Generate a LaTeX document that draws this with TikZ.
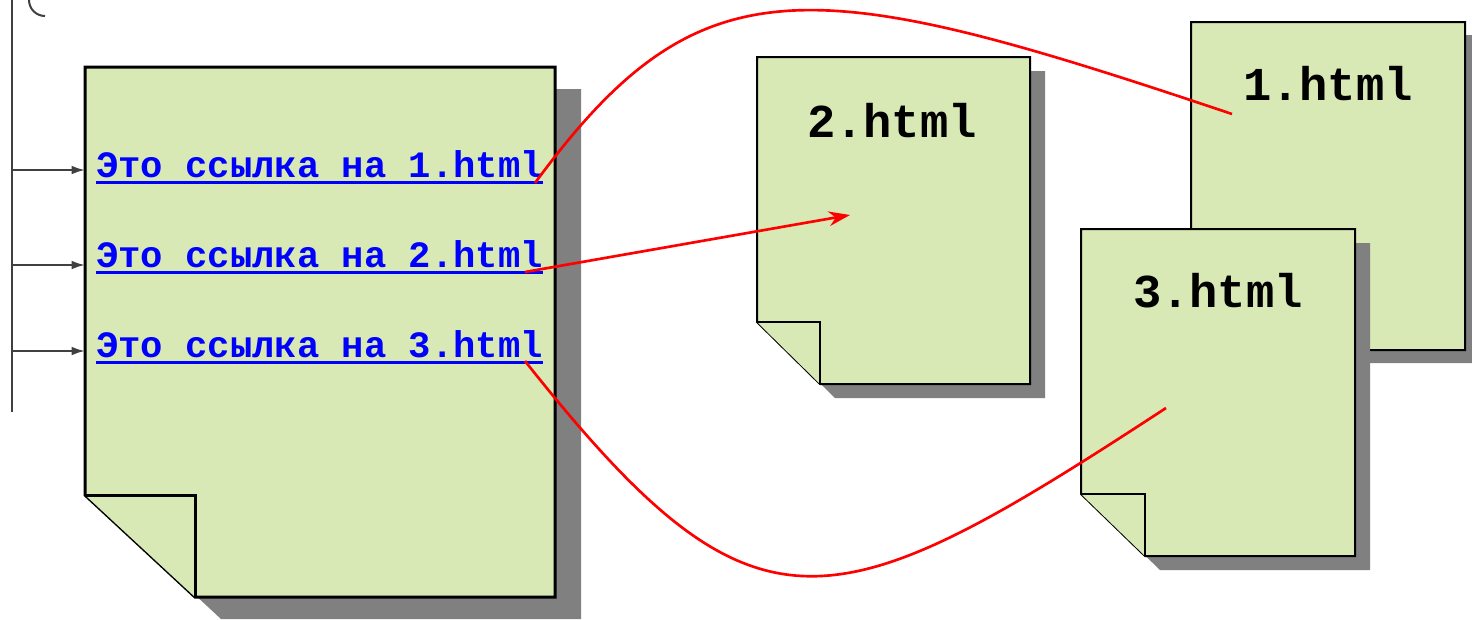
\documentclass[tikz,border=0pt]{standalone}
\usepackage{fontspec}
\usetikzlibrary{arrows.meta,calc}
\newfontfamily\codefont{Liberation Mono}

% page with a folded lower left corner and a shadow
% #1 extra keys, #2..#5 frame, #6 fold x, #7 fold y, #8 #9 shadow offset
\newcommand{\docpage}[9][]{%
  \fill[pageshadow] (#2+#8,#3+#9) -- (#4+#8,#3+#9) -- (#4+#8,#5+#9) -- (#6+#8,#5+#9) -- (#2+#8,#7+#9) -- cycle;
  \filldraw[pagebody,#1] (#2,#3) -- (#4,#3) -- (#4,#5) -- (#6,#5) -- (#2,#7) -- cycle;
  \draw[pagebody,#1] (#2,#7) -- (#6,#7) -- (#6,#5);
}

\begin{document}
\begin{tikzpicture}[x=0.75pt,y=0.75pt,yscale=-1,xscale=1,
  pagebody/.style={fill={rgb,255:red,216;green,233;blue,182},draw=black,line width=1.5pt,line join=miter},
  pageshadow/.style={fill={rgb,255:red,128;green,128;blue,128}},
  busline/.style={draw={rgb,255:red,64;green,64;blue,64},line width=1.5pt},
  busarrow/.style={busline,-{Latex[length=10pt,width=6.5pt]}},
  linktext/.style={inner sep=0pt,anchor=base west,text={rgb,255:red,0;green,0;blue,255},font=\codefont\bfseries\fontsize{27.9}{30}\selectfont},
  linkunder/.style={draw={rgb,255:red,0;green,0;blue,255},line width=2.25pt},
  pagetitle/.style={inner sep=0pt,anchor=base,font=\codefont\bfseries\fontsize{35.4}{40}\selectfont},
  jump/.style={draw={rgb,255:red,255;green,0;blue,0},line width=2pt}]
\useasboundingbox (0,0) rectangle (1472,619);

%Shape: main page
\docpage[line width=2.25pt]{85}{67}{555}{597}{195}{495}{26}{22}
\coordinate (docNW) at (85,67);

%Shape: 2.html
\docpage{757}{57}{1030}{384}{820}{322}{15}{14}
%Shape: 1.html
\docpage{1191}{22}{1465}{350}{1254}{288}{14}{13}
%Shape: 3.html
\docpage{1081}{229}{1355}{556}{1145}{494}{15}{14}

% Text Node
\node[pagetitle] (title2) at (892,137) {2.html};
\node[pagetitle] (title1) at (1328,100) {1.html};
\node[pagetitle] (title3) at (1218,307) {3.html};

% Text Node
\node[linktext] (link1) at (96,177) {Это ссылка на 1.html};
\node[linktext] (link2) at (96,267) {Это ссылка на 2.html};
\node[linktext] (link3) at (96,357) {Это ссылка на 3.html};
\foreach \k in {1,2,3}
  \draw[linkunder] ($(link\k.base west)+(0,5)$) -- ($(link\k.base east)+(0,5)$);

%Straight Lines
\draw[busline] (12,0) -- (12,412);
\draw[busline] (29,0) arc[start angle=180,end angle=90,radius=16];
\coordinate (tap1) at (12,170);
\coordinate (tap2) at (12,265);
\coordinate (tap3) at (12,351);
\foreach \k in {1,2,3}
  \draw[busarrow] (tap\k) -- (tap\k -| docNW);

% targets inside the pages
\coordinate (in1) at (1232,114);
\coordinate (in2) at (850,215);
\coordinate (in3) at (1166,408);

%Curve Lines
\draw[jump] ($(link1.base east)+(-8,6)$) .. controls (700,-42) and (810,-28) .. (in1);
\draw[jump,-{Stealth[length=16pt,width=11pt]}] ($(link2.base east)+(-18,5)$) -- (in2);
\draw[jump] ($(link3.base east)+(-18,4)$) .. controls (755,651) and (828,629) .. (in3);
\end{tikzpicture}
\end{document}
